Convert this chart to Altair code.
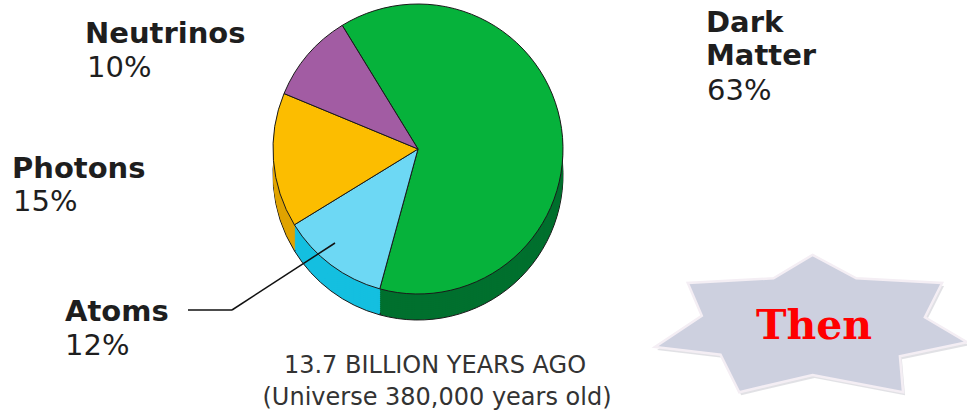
import math
import altair as alt
import pandas as pd

# ---- data ----
components = ["Dark Matter", "Atoms", "Photons", "Neutrinos"]
shares = [63, 12, 15, 10]
caption_lines = ["13.7 BILLION YEARS AGO", "(Universe 380,000 years old)"]
badge_text = ["Then"]

# ---- style ----
top_colors = ["#06b23b", "#6dd8f4", "#fcbd00", "#a25ca3"]
side_colors = ["#00702e", "#14bfe0", "#e0a300", "#7e4781"]

W, H = 967, 412
CX, CY, R, DEPTH = 418, 149, 145, 26
START = -0.55

df = pd.DataFrame({"component": components, "share": shares,
                   "order": list(range(len(components)))})

theta = alt.Theta("share:Q", stack=True,
                  scale=alt.Scale(range=[START, START + 2 * math.pi]))
order = alt.Order("order:Q")


def pie(colors, y, x=CX, radius=R, **mark_kw):
    return alt.Chart(df).mark_arc(radius=radius, **mark_kw).encode(
        theta=theta, order=order,
        color=alt.Color("component:N",
                        scale=alt.Scale(domain=components, range=colors),
                        legend=None),
        x=alt.value(x), y=alt.value(y))


def text(t, x, y, size, weight="normal", font="DejaVu Sans", color="#1e1e1e",
         align="left", **kw):
    return alt.Chart(pd.DataFrame({"t": [t]})).mark_text(
        font=font, fontSize=size, fontWeight=weight, color=color,
        align=align, baseline="alphabetic", **kw
    ).encode(text="t:N", x=alt.value(x), y=alt.value(y))


layers = []

# soft shadow
shadow_df = pd.DataFrame({"share": [1]})
for rr, op in [(R + 16, 0.04), (R + 10, 0.06), (R + 4, 0.08)]:
    layers.append(alt.Chart(shadow_df).mark_arc(radius=rr, color="#000",
                                                opacity=op).encode(
        theta=alt.Theta("share:Q"), x=alt.value(CX + 10), y=alt.value(CY + DEPTH + 6)))

# pie thickness
for d in range(DEPTH, 0, -2):
    if d == DEPTH:
        layers.append(pie(side_colors, CY + d, stroke="#1a1a1a", strokeWidth=1))
    else:
        layers.append(pie(side_colors, CY + d))

# top face
layers.append(pie(top_colors, CY, stroke="#1a1a1a", strokeWidth=1))

# labels
name_font = dict(size=29, weight="bold")
pct_font = dict(size=29)
layers.append(text("Dark Matter", 706, 32, lineBreak=" ", lineHeight=33, **name_font))
layers.append(text(f"{shares[0]}%", 707, 100, **pct_font))
layers.append(text(components[3], 85, 43, **name_font))
layers.append(text(f"{shares[3]}%", 87, 77, **pct_font))
layers.append(text(components[2], 12, 178, **name_font))
layers.append(text(f"{shares[2]}%", 13, 211, **pct_font))
layers.append(text(components[1], 65, 321, **name_font))
layers.append(text(f"{shares[1]}%", 65, 355, **pct_font))

# leader line for Atoms
one = pd.DataFrame({"a": [0]})
layers.append(alt.Chart(one).mark_rule(color="#111", strokeWidth=1.5).encode(
    x=alt.value(188), x2=alt.value(232), y=alt.value(310), y2=alt.value(310)))
layers.append(alt.Chart(one).mark_rule(color="#111", strokeWidth=1.5).encode(
    x=alt.value(232), x2=alt.value(335), y=alt.value(310), y2=alt.value(243)))

# caption
layers.append(text(caption_lines[0], 435, 373, 24, color="#333", align="center"))
layers.append(text(caption_lines[1], 437, 405, 24, color="#333", align="center"))

# star badge
star = ("M0.01,-0.43 L0.29,-0.28 L0.84,-0.25 L0.73,-0.03 L1,0.13 L0.57,0.22 "
        "L0.59,0.45 L0.01,0.34 L-0.46,0.45 L-0.58,0.21 L-1,0.16 L-0.7,-0.04 "
        "L-0.79,-0.25 L-0.24,-0.28 Z")
layers.append(alt.Chart(one).mark_point(shape=star, filled=True, fill="#9a9aa8",
                                        opacity=0.3, size=97344, strokeWidth=0).encode(
    x=alt.value(813), y=alt.value(325)))
layers.append(alt.Chart(one).mark_point(shape=star, filled=True, fill="#cdd0df",
                                        stroke="#f4eef4", strokeWidth=2.5,
                                        size=97344, opacity=1).encode(
    x=alt.value(811), y=alt.value(322)))
layers.append(text(badge_text[0], 814, 339, 41, weight="bold",
                   font="DejaVu Serif", color="#ff0000", align="center"))

chart = alt.layer(*layers).resolve_scale(color="independent").properties(
    width=W, height=H, padding=0, autosize="none", background="white"
).configure_view(stroke=None)

chart.save("out.html", embed_options={"renderer": "svg", "actions": False})
